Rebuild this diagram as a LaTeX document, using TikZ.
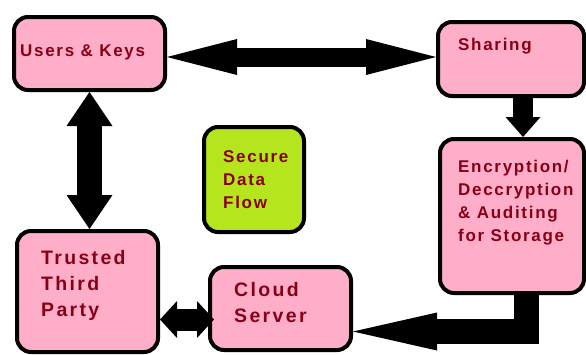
\documentclass[tikz,border=0pt]{standalone}
\usepackage{fontspec}
\setmainfont{Liberation Sans}
\newfontfamily\fontA[LetterSpace=10]{Liberation Sans}
\newfontfamily\fontB[LetterSpace=12]{Liberation Sans}
\usetikzlibrary{arrows.meta,fit,calc}
\definecolor{pinkbox}{HTML}{FFAEC9}
\definecolor{limebox}{HTML}{B5E61D}
\definecolor{txtred}{HTML}{880015}
\begin{document}
\begin{tikzpicture}[x=1pt,y=-1pt,
  box/.style={draw=black, line width=4pt, rounded corners=14pt, fill=pinkbox, inner sep=0pt},
  lblA/.style={anchor=north west, inner sep=0pt, align=left, text=txtred,
    font=\fontA\bfseries\fontsize{17}{23}\selectfont},
  lblB/.style={anchor=north west, inner sep=0pt, align=left, text=txtred,
    font=\fontB\bfseries\fontsize{19.5}{26}\selectfont},
  bigarrow/.style={draw=black, line join=miter}
]
\clip (0,0) rectangle (586,354);
\fill[white] (0,0) rectangle (586,354);

% boxes
\node[box, fit={(14,17) (165,90)}] (uk) {};
\node[box, fit={(438,22) (584,96)}] (sh) {};
\node[box, fit={(440,139) (584,293)}] (en) {};
\node[box, fill=limebox, fit={(204,127) (304,232)}] (sdf) {};
\node[box, fit={(17,231) (158,352)}] (ttp) {};
\node[box, fit={(210,267) (351,350)}] (cs) {};

% texts
\node[lblA] (ukt) at (20,44.7) {Users \& Keys};
\node[lblA] (sht) at (458,37.7) {Sharing};
\node[lblA] (ent) at (458,159.7) {Encryption/\\Deccryption\\\& Auditing\\for Storage};
\node[lblA] (sdft) at (223,150.7) {Secure\\Data\\Flow};
\node[lblB] (ttpt) at (41,250) {Trusted\\Third\\Party};
\node[lblB] (cst) at (234,282) {Cloud\\Server};

% connectors
\coordinate (uka) at ([yshift=-3.5pt]uk.east);
\draw[bigarrow, line width=19pt,
  {Triangle[length=70pt,width=36pt,line width=0pt]}-{Triangle[length=70pt,width=36pt,line width=0pt]}]
  (uka) -- (sh.west |- uka);

\draw[bigarrow, line width=25pt,
  {Triangle[length=34pt,width=46pt,line width=0pt]}-{Triangle[length=34pt,width=46pt,line width=0pt]}]
  (uk.south) -- (uk.south |- ttp.north);

\coordinate (csa) at ([xshift=6pt,yshift=-11pt]cs.west);
\draw[bigarrow, line width=22pt,
  {Triangle[length=17pt,width=37pt,line width=0pt]}-{Triangle[length=17pt,width=37pt,line width=0pt]}]
  (ttp.east |- csa) -- (csa);

\coordinate (sha) at ([xshift=12pt]sh.south);
\draw[bigarrow, line width=20pt, -{Triangle[length=20pt,width=35pt,line width=0pt]}]
  (sha) -- (sha |- en.north);

\coordinate (ena) at ([xshift=14.5pt]en.south);
\coordinate (csb) at ([yshift=-23pt]cs.east);
\draw[bigarrow, line width=25pt, -{Triangle[length=84pt,width=38pt,line width=0pt]}]
  (ena) |- (csb);
\end{tikzpicture}
\end{document}
